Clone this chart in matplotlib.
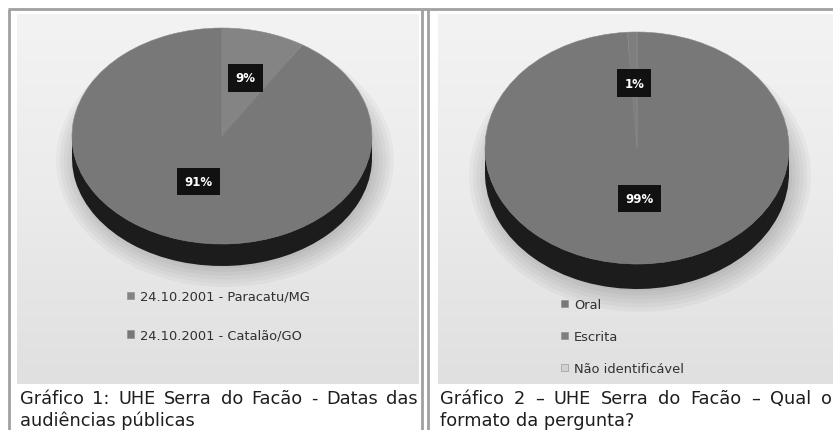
import numpy as np
import matplotlib
matplotlib.use("Agg")
import matplotlib.pyplot as plt
from matplotlib.colors import LinearSegmentedColormap
from matplotlib.patches import Ellipse, Rectangle

W, H = 833, 431

# data
left_labels = ["24.10.2001 - Paracatu/MG", "24.10.2001 - Catalão/GO"]
left_values = [9, 91]
left_colors = ["#848484", "#787878"]
left_caption = ["Gráfico 1: UHE Serra do Facão - Datas das", "audiências públicas"]

right_labels = ["Oral", "Escrita", "Não identificável"]
right_values = [99, 1, 0]
right_colors = ["#787878", "#7e7e7e", "#d2d2d2"]
right_caption = ["Gráfico 2 – UHE Serra do Facão – Qual o", "formato da pergunta?"]

RIM = "#1c1c1c"

fig = plt.figure(figsize=(W / 100, H / 100), dpi=100)
fig.patch.set_facecolor("white")

# background axes in pixel coordinates (frames, gradients, captions)
bg = fig.add_axes([0, 0, 1, 1])
bg.axis("off")
grad = np.linspace(0, 1, 200).reshape(-1, 1)
cmap = LinearSegmentedColormap.from_list("panel", ["#f3f3f3", "#ebebeb", "#e0e0e0"])
for x0, x1 in [(17, 419), (438, 833)]:
    bg.imshow(grad, extent=(x0, x1, 385, 15), cmap=cmap, aspect="auto", zorder=0)

# table borders
line_kw = dict(color="#a0a0a0", lw=2, solid_capstyle="butt")
bg.plot([8, 833], [10, 10], **line_kw)
bg.plot([9, 9], [10, 431], **line_kw)
bg.plot([422, 422], [10, 431], **line_kw)
bg.plot([428, 428], [10, 431], **line_kw)
bg.set_xlim(0, W)
bg.set_ylim(H, 0)


def justify(words, x0, x1, y, **kw):
    texts = [bg.text(x0, y, w, va="center", ha="left", **kw) for w in words]
    fig.canvas.draw()
    inv = bg.transData.inverted()
    widths = []
    for t in texts:
        bb = t.get_window_extent()
        a = inv.transform((bb.x0, bb.y0))
        b = inv.transform((bb.x1, bb.y1))
        widths.append(b[0] - a[0])
    gap = (x1 - x0 - sum(widths)) / (len(words) - 1)
    x = x0
    for t, w in zip(texts, widths):
        t.set_x(x)
        x += w + gap


cap_kw = dict(fontsize=12.8, color="#1e1e1e", family="DejaVu Sans")
justify(left_caption[0].split(" "), 20, 418, 399, **cap_kw)
bg.text(20, 421, left_caption[1], va="center", ha="left", **cap_kw)
justify(right_caption[0].split(" "), 440, 832, 399, **cap_kw)
bg.text(440, 421, right_caption[1], va="center", ha="left", **cap_kw)


def pct(p):
    return f"{p:.0f}%" if p > 0.5 else ""


def pie3d(box, cx, cy, rx, ry, depth, values, colors, labels, leg_xy, leg_space):
    x0, y0, x1, y1 = box
    ax = fig.add_axes([x0 / W, 1 - y1 / H, (x1 - x0) / W, (y1 - y0) / H])
    d = depth / ry
    # soft shadow under the pie
    for k in range(6):
        ax.add_patch(Ellipse((0.02, -d - 0.02), 2 + 0.05 * k, 2 + 0.07 * k,
                             color="black", alpha=0.03, lw=0, zorder=0))
    # side of the pie
    ax.pie(values, colors=[RIM] * len(values), center=(0, -d), startangle=90,
           counterclock=False, wedgeprops=dict(linewidth=0))
    ax.add_patch(Rectangle((-1, -d), 2, d, color=RIM, lw=0, zorder=1))
    # top face
    wedges, _, autotexts = ax.pie(
        values, colors=colors, startangle=90, counterclock=False,
        autopct=pct, pctdistance=0.56,
        wedgeprops=dict(linewidth=0.4, edgecolor="#8a8a8a"))
    for w in wedges:
        w.set_zorder(2)
    for t in autotexts:
        tx, ty = t.get_position()
        if ty < 0:
            # near half of the tilted pie: labels sit closer to the centre
            t.set_position((tx, ty * 0.78))
        t.set(color="white", fontsize=8.5, fontweight="bold", zorder=5,
              bbox=dict(boxstyle="square,pad=0.6", fc="#111111", ec="none"))
    ax.set_aspect("auto")
    ax.set_xlim((x0 - cx) / rx, (x1 - cx) / rx)
    ax.set_ylim((cy - y1) / ry, (cy - y0) / ry)
    ax.axis("off")
    fig.legend(wedges, labels, loc="upper left",
               bbox_to_anchor=(leg_xy[0] / W, 1 - leg_xy[1] / H),
               frameon=False, fontsize=9.4, labelcolor="#303030",
               handlelength=0.5, handleheight=0.5, handletextpad=0.5,
               labelspacing=leg_space, borderpad=0, borderaxespad=0)


pie3d((17, 15, 419, 385), 222, 137, 150, 108, 22,
      left_values, left_colors, left_labels, (127, 291), 1.95)
pie3d((438, 15, 833, 385), 637, 149, 152, 116, 25,
      right_values, right_colors, right_labels, (561, 299), 1.45)

fig.savefig("out.png", dpi=100, facecolor="white")
